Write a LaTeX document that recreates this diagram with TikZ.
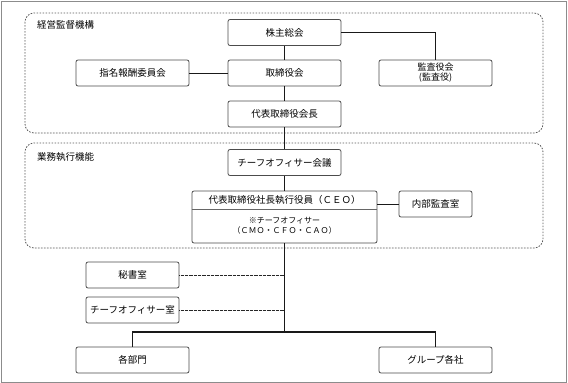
\documentclass[tikz,border=0pt]{standalone}
\usepackage{fontspec}
\setmainfont{Noto Sans CJK JP}
\usetikzlibrary{positioning}

\begin{document}
\begin{tikzpicture}[
  x={(1pt,0pt)},
  y={(0pt,-1pt)},
  font=\fontsize{9.5pt}{11pt}\selectfont,
  orgbox/.style={draw=black!70, line width=0.8pt, rounded corners=2pt, fill=white,
    minimum height=26pt, inner sep=1pt, align=center},
  zone/.style={draw=black!65, line width=0.8pt, dash pattern=on 1.6pt off 1.4pt, rounded corners=9pt},
  zonelabel/.style={anchor=west, inner sep=0pt},
  mainline/.style={line width=1.3pt, black!90},
  link/.style={line width=1pt, black!90},
  dotline/.style={line width=1pt, black!85, dash pattern=on 0.7pt off 0.6pt}
]
\useasboundingbox (0,0) rectangle (568,383);
\draw[black!45, line width=1pt] (1,1) rectangle (566.5,382);

% zones
\draw[zone] (25,13) rectangle (543,133);
\draw[zone] (25,143) rectangle (543,248);
\node[zonelabel] (zkanri) at (37,25) {経営監督機構};
\node[zonelabel] (zgyomu) at (37,157) {業務執行機能};

% boxes
\node[orgbox, minimum width=113pt] (kabunushi) at (284.5,32.5) {株主総会};
\node[orgbox, minimum width=113pt] (torishimari) at (284.5,73) {取締役会};
\node[orgbox, minimum width=113pt] (kaicho) at (284.5,114) {代表取締役会長};
\node[orgbox, minimum width=113pt] (shimei) at (132.5,73) {指名報酬委員会};
\node[orgbox, minimum width=113pt, font=\fontsize{9pt}{10pt}\selectfont] (kansa) at (435.5,73) {監査役会\\(監査役)};
\node[orgbox, minimum width=113pt] (kaigi) at (284.5,162.5) {チーフオフィサー会議};
\node[orgbox, minimum width=185pt, minimum height=52pt] (ceo) at (284.5,217) {};
\node[inner sep=0pt] (ceotitle) at (284.5,200) {代表取締役社長執行役員（ＣＥＯ）};
\node[inner sep=0pt, align=center, font=\fontsize{8pt}{10pt}\selectfont] (ceonote) at (284.5,226) {※チーフオフィサー\\（ＣＭＯ・ＣＦＯ・ＣＡＯ）};
\node[orgbox, minimum width=73pt] (naibu) at (435.5,204) {内部監査室};
\node[orgbox, minimum width=93pt] (hisho) at (132.5,275) {秘書室};
\node[orgbox, minimum width=93pt] (cosho) at (132.5,310) {チーフオフィサー室};
\node[orgbox, minimum width=113pt] (bumon) at (132.5,360) {各部門};
\node[orgbox, minimum width=113pt] (group) at (435.5,360) {グループ各社};

\draw[black!60, line width=0.6pt] (ceo.west |- 0,209) -- (ceo.east |- 0,209);

% connectors
\coordinate (jn) at (284.5,332);
\draw[mainline] (kabunushi) -- (torishimari);
\draw[mainline] (torishimari) -- (kaicho);
\draw[mainline] (kaicho) -- (kaigi);
\draw[mainline] (kaigi) -- (ceo);
\draw[mainline] (ceo) -- (jn);
\draw[mainline] (bumon.north) |- (jn) -| (group.north);
\draw[link] (shimei) -- (torishimari);
\draw[link] (kabunushi) -| (kansa);
\draw[link] (naibu -| ceo.east) -- (naibu);
\draw[dotline] (hisho) -- (hisho -| jn);
\draw[dotline] (cosho) -- (cosho -| jn);
\end{tikzpicture}
\end{document}
